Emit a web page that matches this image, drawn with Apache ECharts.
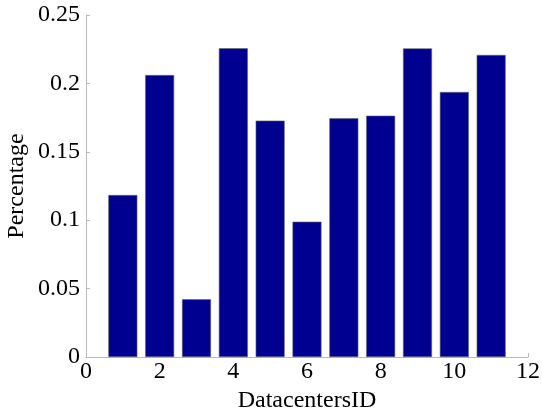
<!DOCTYPE html>
<html>
<head>
<meta charset="utf-8">
<script src="https://cdn.jsdelivr.net/npm/echarts@6/dist/echarts.min.js"></script>
<style>
  html, body { margin: 0; padding: 0; background: #fff; }
  #chart { width: 542px; height: 414px; }
</style>
</head>
<body>
<div id="chart"></div>
<script>
// datacenter ids and the share each one gets
var ids = [1, 2, 3, 4, 5, 6, 7, 8, 9, 10, 11];
var percentage = [0.1184, 0.2061, 0.0422, 0.2257, 0.1728, 0.0989, 0.1745, 0.1764, 0.2256, 0.1937, 0.2208];

var fontFam = '"Liberation Serif", "Times New Roman", serif';
var axisGray = '#b8b8b8';

var chart = echarts.init(document.getElementById('chart'));

var option = {
  animation: false,
  grid: {
    left: 86,
    right: 14,
    top: 15,
    bottom: 57,
    containLabel: false,
    outerBoundsMode: 'none'
  },
  xAxis: {
    type: 'value',
    min: 0,
    max: 12,
    interval: 2,
    name: 'DatacentersID',
    nameLocation: 'middle',
    nameGap: 28,
    nameTextStyle: { color: '#000', fontFamily: fontFam, fontSize: 24 },
    axisLine: { show: true, lineStyle: { color: axisGray, width: 1 } },
    axisTick: { show: true, inside: true, length: 4, lineStyle: { color: axisGray } },
    axisLabel: { color: '#000', fontFamily: fontFam, fontSize: 24, margin: 3 },
    splitLine: { show: false }
  },
  yAxis: {
    type: 'value',
    min: 0,
    max: 0.25,
    interval: 0.05,
    name: 'Percentage',
    nameLocation: 'middle',
    nameGap: 57,
    nameMoveOverlap: false,
    nameRotate: 90,
    nameTextStyle: { color: '#000', fontFamily: fontFam, fontSize: 24 },
    axisLine: { show: true, lineStyle: { color: axisGray, width: 1 } },
    axisTick: { show: true, inside: true, length: 4, lineStyle: { color: axisGray } },
    axisLabel: { color: '#000', fontFamily: fontFam, fontSize: 24, margin: 6 },
    splitLine: { show: false }
  },
  series: [
    {
      type: 'bar',
      barWidth: 29,
      itemStyle: {
        color: '#000090',
        borderColor: '#666',
        borderWidth: 0.6
      },
      data: ids.map(function (id, i) { return [id, percentage[i]]; })
    }
  ]
};

chart.setOption(option);
</script>
</body>
</html>
